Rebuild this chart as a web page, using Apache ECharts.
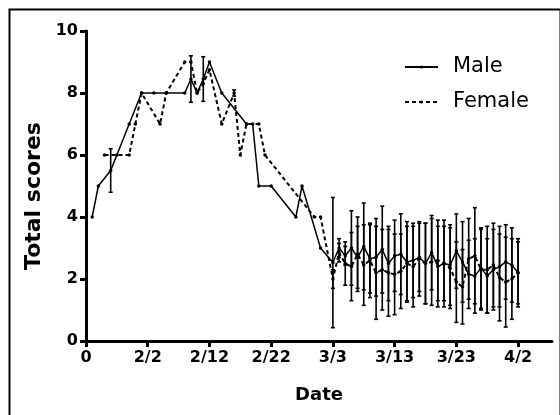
<!DOCTYPE html>
<html>
<head>
<meta charset="utf-8">
<script src="https://cdn.jsdelivr.net/npm/echarts@6/dist/echarts.min.js"></script>
<style>
html,body{margin:0;padding:0;background:#fff;}
#chart{width:560px;height:415px;}
</style>
</head>
<body>
<div id="chart"></div>
<script>
// ---- data (year 2020; day 0 = 1/23, axis origin labelled "0") ----
const tickLabels = ['0', '2/2', '2/12', '2/22', '3/3', '3/13', '3/23', '4/2'];

const maleDates = ['1/24','1/25','1/27','1/30','2/1','2/3','2/5','2/8','2/9','2/10','2/11','2/12','2/14','2/18','2/19','2/20','2/22','2/26','2/27','3/1',
  '3/3','3/4','3/5','3/6','3/7','3/8','3/9','3/10','3/11','3/12','3/13','3/14','3/15','3/16','3/17','3/18','3/19','3/20','3/21','3/22','3/23','3/24','3/25','3/26','3/27','3/28','3/29','3/30','3/31','4/1','4/2'];
const maleValues = [4, 5, 5.5, 7, 8, 8, 8, 8, 8.45, 8, 8.45, 9, 8, 7, 7, 5, 5, 4, 5, 3,
  2.53, 3.0, 2.75, 3.0, 2.7, 3.05, 2.65, 2.7, 2.95, 2.5, 2.75, 2.8, 2.55, 2.6, 2.7, 2.5, 2.85, 2.4, 2.5, 2.45, 2.9, 2.55, 2.15, 2.1, 2.35, 2.1, 2.3, 2.4, 2.55, 2.45, 2.2];
const maleSD = [0, 0, 0.7, 0, 0, 0, 0, 0, 0.75, 0, 0.72, 0, 0, 0, 0, 0, 0, 0, 0, 0,
  2.1, 0.3, 0.3, 1.2, 1.0, 1.4, 1.1, 1.25, 1.4, 1.2, 1.15, 1.3, 1.3, 1.2, 1.1, 1.3, 1.2, 1.3, 1.4, 1.3, 1.2, 1.3, 1.1, 1.2, 1.3, 1.2, 1.3, 1.3, 1.2, 1.2, 1.0];

const femaleDates = ['1/26','1/28','1/30','1/31','2/1','2/4','2/5','2/8','2/9','2/10','2/11','2/12','2/14','2/16','2/17','2/18','2/20','2/21','2/29','3/1',
  '3/3','3/4','3/5','3/6','3/7','3/8','3/9','3/10','3/11','3/12','3/13','3/14','3/15','3/16','3/17','3/18','3/19','3/20','3/21','3/22','3/23','3/24','3/25','3/26','3/27','3/28','3/29','3/30','3/31','4/1','4/2'];
const femaleValues = [6, 6, 6, 7, 8, 7, 8, 9, 9, 8, 8.3, 8.75, 7, 8, 6, 7, 7, 6, 4, 4,
  2.0, 2.85, 2.5, 2.4, 2.8, 2.45, 2.6, 2.2, 2.3, 2.2, 2.15, 2.25, 2.5, 2.4, 2.65, 2.5, 2.55, 2.6, 2.5, 2.35, 1.9, 1.75, 2.65, 2.75, 2.3, 2.3, 2.45, 2.05, 1.9, 2.0, 2.2];
const femaleSD = [0, 0, 0, 0, 0, 0, 0, 0, 0, 0, 0, 0, 0, 0.1, 0, 0, 0, 0, 0, 0,
  0.3, 0.3, 0.7, 1.1, 1.2, 1.3, 1.2, 1.5, 1.3, 1.4, 1.3, 1.2, 1.2, 1.3, 1.2, 1.3, 1.4, 1.3, 1.2, 1.3, 1.3, 1.2, 1.3, 1.55, 1.3, 1.4, 1.35, 1.4, 1.45, 1.3, 1.1];

// ---- helpers ----
function dayOf(s) {
  const [m, d] = s.split('/').map(Number);
  return Math.round((Date.UTC(2020, m - 1, d) - Date.UTC(2020, 0, 23)) / 86400000);
}
const tickDays = tickLabels.map((t, i) => i === 0 ? 0 : dayOf(t));

const maleData = maleDates.map((d, i) => [dayOf(d), maleValues[i]]);
const femaleData = femaleDates.map((d, i) => [dayOf(d), femaleValues[i]]);
const maleErr = maleDates.map((d, i) => [dayOf(d), maleValues[i], maleSD[i]]).filter(r => r[2] > 0);
const femaleErr = femaleDates.map((d, i) => [dayOf(d), femaleValues[i], femaleSD[i]]).filter(r => r[2] > 0);

function errRender(params, api) {
  const x = api.value(0), v = api.value(1), sd = api.value(2);
  const top = api.coord([x, v + sd]);
  const bot = api.coord([x, v - sd]);
  const cap = 2;
  const st = { stroke: '#000', lineWidth: 1.6 };
  return {
    type: 'group',
    children: [
      { type: 'line', shape: { x1: top[0], y1: top[1], x2: bot[0], y2: bot[1] }, style: st },
      { type: 'line', shape: { x1: top[0] - cap, y1: top[1], x2: top[0] + cap, y2: top[1] }, style: st },
      { type: 'line', shape: { x1: bot[0] - cap, y1: bot[1], x2: bot[0] + cap, y2: bot[1] }, style: st }
    ]
  };
}

const FONT = "'DejaVu Sans', 'Liberation Sans', Arial, sans-serif";
const chart = echarts.init(document.getElementById('chart'), null, { renderer: 'canvas' });
chart.setOption({
  animation: false,
  backgroundColor: '#fff',
  graphic: [{
    type: 'rect', left: 7, top: 7,
    shape: { x: 0, y: 0, width: 551, height: 420 },
    style: { fill: 'none', stroke: '#000', lineWidth: 2 },
    silent: true
  }],
  grid: { left: 86, right: 8, top: 31, bottom: 74 },
  legend: {
    data: ['Male', 'Female'],
    orient: 'vertical',
    left: 399, top: 50,
    itemWidth: 33, itemHeight: 4, itemGap: 11,
    textStyle: { fontFamily: FONT, fontSize: 21, color: '#000', lineHeight: 24, padding: [0, 0, 0, 10] }
  },
  xAxis: {
    type: 'value', min: 0, max: 75.5,
    axisLine: { show: true, lineStyle: { color: '#000', width: 3 } },
    axisTick: { show: true, customValues: tickDays, length: 6, lineStyle: { color: '#000', width: 3 } },
    axisLabel: {
      customValues: tickDays,
      formatter: v => tickLabels[tickDays.indexOf(Math.round(v))] || '',
      color: '#000', fontFamily: FONT, fontWeight: 'bold', fontSize: 16, margin: 9
    },
    splitLine: { show: false },
    name: 'Date', nameLocation: 'middle', nameGap: 45,
    nameTextStyle: { color: '#000', fontFamily: FONT, fontWeight: 'bold', fontSize: 18 }
  },
  yAxis: {
    type: 'value', min: 0, max: 10, interval: 2,
    axisLine: { show: true, lineStyle: { color: '#000', width: 3 } },
    axisTick: { show: true, length: 6, lineStyle: { color: '#000', width: 3 } },
    axisLabel: { color: '#000', fontFamily: FONT, fontWeight: 'bold', fontSize: 16, margin: 8 },
    splitLine: { show: false },
    name: 'Total scores', nameLocation: 'middle', nameGap: 35,
    nameTextStyle: { color: '#000', fontFamily: FONT, fontWeight: 'bold', fontSize: 22, padding: [0, 20, 0, 0] }
  },
  series: [
    {
      name: 'Male', type: 'line', data: maleData,
      symbol: 'circle', symbolSize: 3.5, showSymbol: true,
      itemStyle: { color: '#000' },
      lineStyle: { color: '#000', width: 1.5 }, z: 3
    },
    {
      name: 'Female', type: 'line', data: femaleData,
      symbol: 'circle', symbolSize: 3.5, showSymbol: true,
      itemStyle: { color: '#000' },
      lineStyle: { color: '#000', width: 2, type: [4, 3] }, z: 3
    },
    { name: 'maleErr', type: 'custom', renderItem: errRender, data: maleErr, z: 2, silent: true },
    { name: 'femaleErr', type: 'custom', renderItem: errRender, data: femaleErr, z: 2, silent: true }
  ]
});
</script>
</body>
</html>
